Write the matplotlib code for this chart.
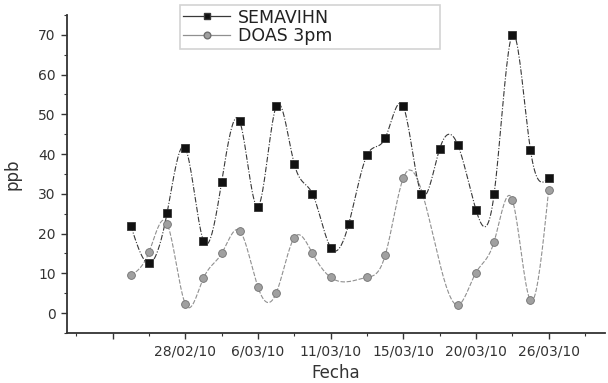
import numpy as np
import matplotlib
matplotlib.use("Agg")
import matplotlib.pyplot as plt

plt.rcParams['font.family'] = ['DejaVu Sans']

# index of each day along the x axis (one point every half tick)
idx = np.arange(24)
semavihn = [22, 12.5, 25.3, 41.5, 18.2, 33, 48.2, 26.8, 52, 37.5, 30, 16.5,
            22.5, 39.7, 44, 52, 30, 41.3, 42.3, 26, 30, 70, 41, 34]
doas = [9.5, 15.3, 22.5, 2.3, 8.8, 15, 20.7, 6.5, 5, 19, 15, 9,
        np.nan, 9, 14.5, 34, np.nan, np.nan, 2, 10.2, 18, 28.5, 3.2, 31]

major_pos = [-1, 3, 7, 11, 15, 19, 23]
major_lab = ['', '28/02/10', '6/03/10', '11/03/10', '15/03/10', '20/03/10', '26/03/10']
minor_pos = [-3, 1, 5, 9, 13, 17, 21, 25]


def natural_spline(x, y, n=20):
    # natural cubic spline through the points, like Origin's "spline connect"
    x = np.asarray(x, float)
    y = np.asarray(y, float)
    ok = ~np.isnan(y)
    x, y = x[ok], y[ok]
    m = len(x)
    h = np.diff(x)
    A = np.zeros((m, m))
    b = np.zeros(m)
    A[0, 0] = A[-1, -1] = 1
    for i in range(1, m - 1):
        A[i, i - 1] = h[i - 1]
        A[i, i] = 2 * (h[i - 1] + h[i])
        A[i, i + 1] = h[i]
        b[i] = 6 * ((y[i + 1] - y[i]) / h[i] - (y[i] - y[i - 1]) / h[i - 1])
    M = np.linalg.solve(A, b)
    xs, ys = [], []
    for i in range(m - 1):
        t = np.linspace(x[i], x[i + 1], n)
        a = x[i + 1] - t
        c = t - x[i]
        s = (M[i] * a**3 + M[i + 1] * c**3) / (6 * h[i]) \
            + (y[i] / h[i] - M[i] * h[i] / 6) * a \
            + (y[i + 1] / h[i] - M[i + 1] * h[i] / 6) * c
        xs.append(t)
        ys.append(s)
    return np.concatenate(xs), np.concatenate(ys)


fig = plt.figure(figsize=(6.08, 3.83), dpi=100)
ax = fig.add_axes([0.110, 0.1305, 0.885, 0.8305])

sx, sy = natural_spline(idx, semavihn)
dx, dy = natural_spline(idx, doas)
ax.plot(dx, dy, color='#909090', lw=0.8, ls=(0, (4, 1.5)))
ax.plot(sx, sy, color='#383838', lw=0.8, ls=(0, (5, 1.5, 1, 1.5)))
ax.plot(idx, semavihn, ls='none', marker='s', ms=5.2, mfc='#111111', mec='#333333', mew=0.6)
ax.plot(idx, doas, ls='none', marker='o', ms=5.6, mfc='#a0a0a0', mec='#707070', mew=0.6)

# legend entries (line + marker)
ax.plot([], [], color='#383838', lw=0.9, marker='s', ms=4.5, mfc='#111111', label='SEMAVIHN')
ax.plot([], [], color='#909090', lw=0.9, marker='o', ms=4.8, mfc='#a0a0a0', mec='#707070',
        label='DOAS 3pm')
leg = ax.legend(loc='upper left', bbox_to_anchor=(0.210, 0.9, 0.483, 0.131), mode='expand',
                fontsize=12.5, frameon=True, fancybox=False, edgecolor='#c8c8c8',
                handlelength=2.7, handletextpad=0.45, borderpad=0.2, labelspacing=0.05,
                borderaxespad=0)
leg.get_frame().set_linewidth(1.2)
for t in leg.get_texts():
    t.set_color('#222222')

ax.set_xlim(-3.52, 26.1)
ax.set_ylim(-5, 75)
ax.set_xticks(major_pos)
ax.set_xticklabels(major_lab)
ax.set_xticks(minor_pos, minor=True)
ax.set_yticks(range(0, 71, 10))
ax.set_yticks(range(-5, 76, 10), minor=True)
ax.tick_params(axis='both', which='major', labelsize=10, length=4, width=1, colors='#333333',
               labelcolor='#333333', pad=4)
ax.tick_params(axis='both', which='minor', length=2.5, width=0.8, colors='#333333')

ax.spines['top'].set_visible(False)
ax.spines['right'].set_visible(False)
for s in ['left', 'bottom']:
    ax.spines[s].set_linewidth(1.3)
    ax.spines[s].set_color('#333333')

ax.set_xlabel('Fecha', fontsize=12, color='#333333', labelpad=4)
ax.set_ylabel('ppb', fontsize=12, color='#333333', labelpad=12)

fig.savefig('out.png', dpi=100)
